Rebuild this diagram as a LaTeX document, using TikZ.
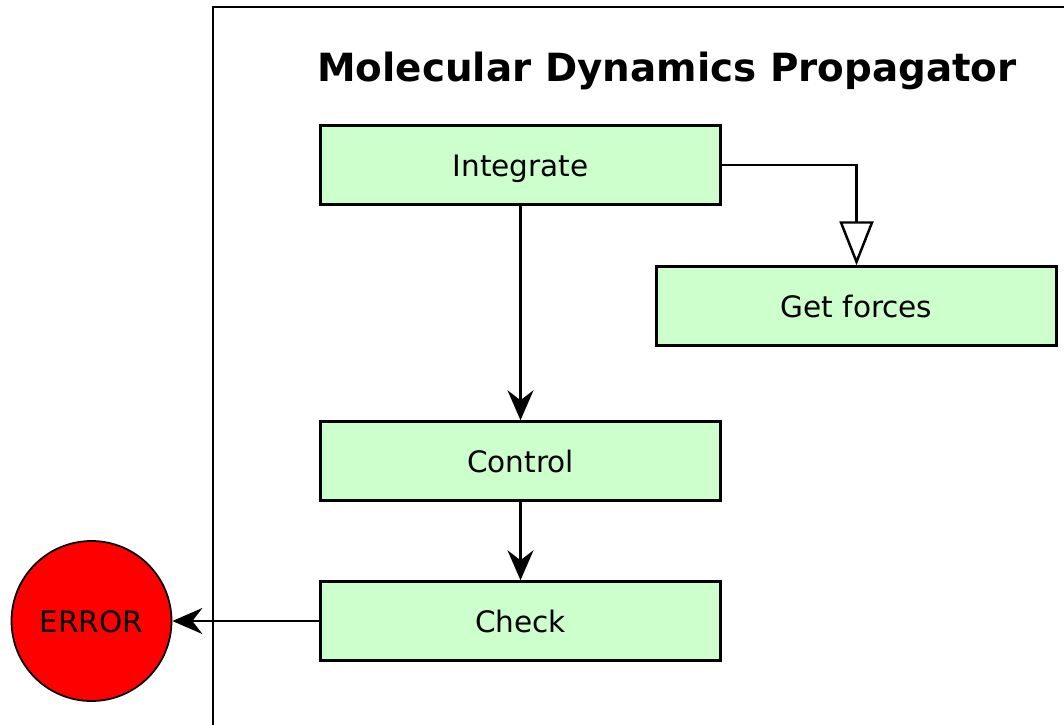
\documentclass[tikz,border=0pt]{standalone}
\usepackage{fontspec}
\setmainfont{DejaVu Sans}
\usepackage{tikz}
\usetikzlibrary{arrows.meta,positioning,calc}
\usepackage{xcolor}
\definecolor{stepgreen}{RGB}{204,255,204}
\definecolor{errorred}{RGB}{255,0,0}

\begin{document}
\begin{tikzpicture}[
    box/.style={draw, line width=1.4pt, fill=stepgreen, minimum width=8.0cm, minimum height=1.58cm, text height=13pt, text depth=0pt, align=center, font=\fontsize{16.8}{20}\selectfont},
    errnode/.style={draw, circle, line width=1pt, fill=errorred, minimum size=3.2cm, inner sep=0pt, text height=12.6pt, text depth=0pt, font=\fontsize{16.8}{20}\selectfont},
    arrow/.style={-{Stealth[length=0.6cm, width=0.52cm, inset=0.2cm]}, line width=1.4pt},
    openarrow/.style={-{Triangle[open, length=0.88cm, width=0.68cm]}, line width=1.4pt}
]
    \clip (0,0) rectangle (21.28,-14.48);
    \useasboundingbox (0,0) rectangle (21.28,-14.48);
    % propagator frame, cut by the page edge
    \draw[line width=1pt] (4.26,-0.14) rectangle (22,-15);
    \node[font=\bfseries\fontsize{22.1}{26}\selectfont, text height=16.2pt, text depth=0pt] (title) at (13.34,-1.34) {Molecular Dynamics Propagator};

    \node[box] (integ) at (10.41,-3.30) {Integrate};
    \node[box] (forces) at (17.13,-6.12) {Get forces};
    \node[box] (control) at (10.41,-9.22) {Control};
    \node[box] (check) at (10.41,-12.42) {Check};
    \node[errnode] (error) at (1.83,-12.42) {ERROR};

    \draw[arrow] (integ) -- (control);
    \draw[arrow] (control) -- (check);
    \draw[arrow] (check) -- (error);
    \draw[openarrow] (integ.east) -| (forces.north);
\end{tikzpicture}
\end{document}
